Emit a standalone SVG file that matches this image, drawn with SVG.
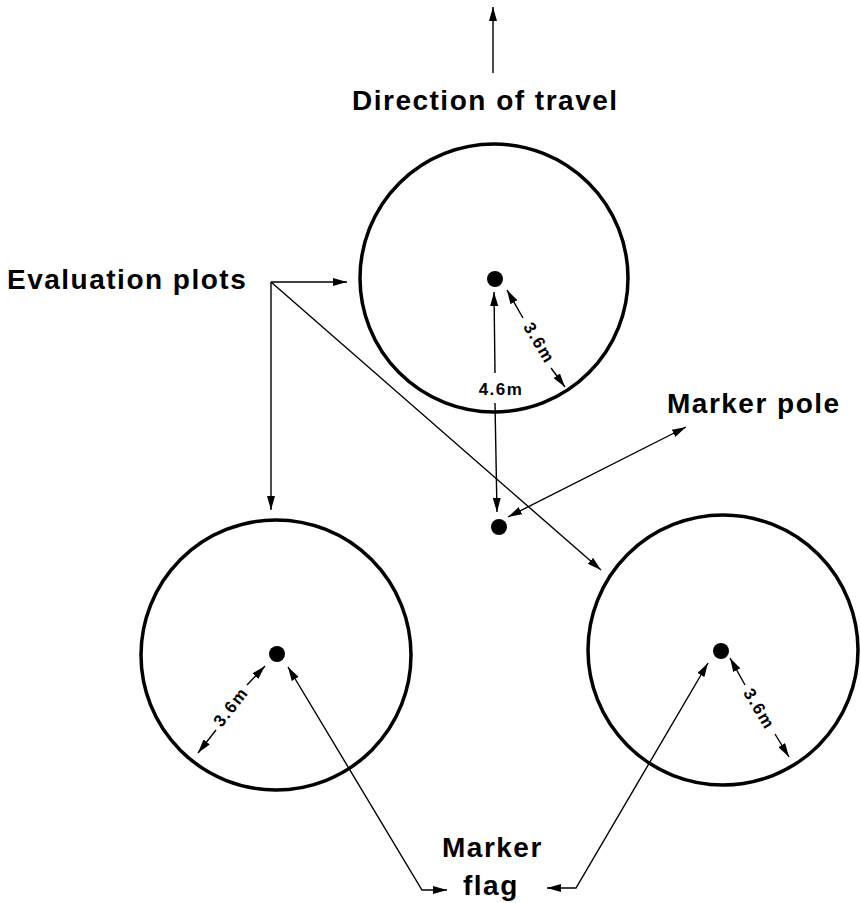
<svg xmlns="http://www.w3.org/2000/svg" width="861" height="903" viewBox="0 0 861 903">
<style>
.plot{fill:none;stroke:#000;stroke-width:3.5}
.dot{fill:#000}
.ln{fill:none;stroke:#000;stroke-width:1.4}
.lbl{font-family:"Liberation Sans",Arial,sans-serif;font-weight:bold;font-size:28px;letter-spacing:1.5px;fill:#000}
.dim{font-family:"Liberation Sans",Arial,sans-serif;font-weight:bold;font-size:17px;letter-spacing:1.5px;fill:#000}
</style>
<defs>
<marker id="ah" viewBox="0 0 14 8" refX="14" refY="4" markerWidth="14" markerHeight="8" markerUnits="userSpaceOnUse" orient="auto-start-reverse">
<path d="M0,0 L14,4 L0,8 Z" fill="#000"/>
</marker>
</defs>
<rect width="861" height="903" fill="#fff"/>

<g id="plot-top">
<circle class="plot" cx="494" cy="278" r="134"/>
<circle class="dot" cx="495" cy="279" r="8"/>
</g>
<g id="plot-left">
<circle class="plot" cx="276" cy="655" r="135"/>
<circle class="dot" cx="277" cy="654" r="8"/>
</g>
<g id="plot-right">
<circle class="plot" cx="723" cy="650" r="135"/>
<circle class="dot" cx="721" cy="651" r="8"/>
</g>
<g id="marker-pole">
<circle class="dot" cx="499" cy="527" r="8"/>
</g>

<g id="connectors">
<line class="ln" x1="493" y1="73" x2="493" y2="7" marker-end="url(#ah)"/>
<line class="ln" x1="271" y1="282" x2="347" y2="282" marker-end="url(#ah)"/>
<line class="ln" x1="271" y1="282" x2="271" y2="510" marker-end="url(#ah)"/>
<line class="ln" x1="271" y1="282" x2="601" y2="570" marker-end="url(#ah)"/>
<line class="ln" x1="495" y1="373" x2="494" y2="292" marker-end="url(#ah)"/>
<line class="ln" x1="495" y1="403" x2="497" y2="512" marker-end="url(#ah)"/>
<line class="ln" x1="523" y1="318" x2="507" y2="290" marker-end="url(#ah)"/>
<line class="ln" x1="551" y1="368" x2="565" y2="387" marker-end="url(#ah)"/>
<line class="ln" x1="247" y1="685" x2="265" y2="666" marker-end="url(#ah)"/>
<line class="ln" x1="216" y1="730" x2="198" y2="753" marker-end="url(#ah)"/>
<line class="ln" x1="745" y1="685" x2="730" y2="658" marker-end="url(#ah)"/>
<line class="ln" x1="775" y1="734" x2="789" y2="757" marker-end="url(#ah)"/>
<line class="ln" x1="686" y1="427" x2="508" y2="517" marker-start="url(#ah)" marker-end="url(#ah)"/>
<path class="ln" d="M288,667 L422,890 L447,890" marker-start="url(#ah)" marker-end="url(#ah)"/>
<path class="ln" d="M708,663 L576,888 L547,888" marker-start="url(#ah)" marker-end="url(#ah)"/>
</g>

<g id="labels">
<text class="lbl" x="352" y="110">Direction of travel</text>
<text class="lbl" x="7" y="289">Evaluation plots</text>
<text class="lbl" x="667" y="413">Marker pole</text>
<text class="lbl" x="442" y="857">Marker</text>
<text class="lbl" x="463" y="895">flag</text>
<text class="dim" x="501" y="395" text-anchor="middle">4.6m</text>
<text class="dim" text-anchor="middle" dominant-baseline="central" transform="translate(539,343) rotate(59)">3.6m</text>
<text class="dim" text-anchor="middle" dominant-baseline="central" transform="translate(231,707) rotate(-52)">3.6m</text>
<text class="dim" text-anchor="middle" dominant-baseline="central" transform="translate(759,709) rotate(59)">3.6m</text>
</g>
</svg>
